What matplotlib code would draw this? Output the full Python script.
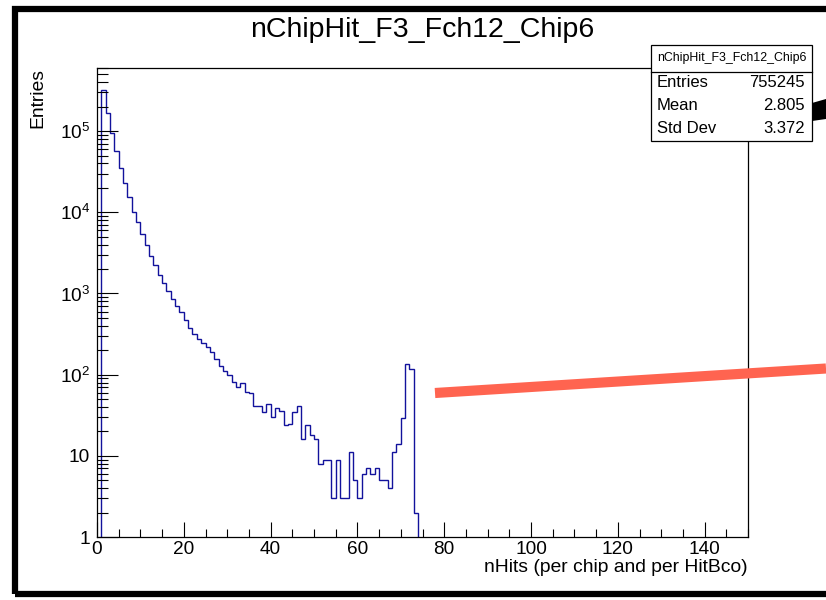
import numpy as np
import matplotlib
matplotlib.use("Agg")
import matplotlib.pyplot as plt
from matplotlib.patches import Rectangle, Polygon
from matplotlib.lines import Line2D
from matplotlib.ticker import MultipleLocator, LogLocator, FuncFormatter, NullFormatter

plt.rcParams['font.family'] = ['Liberation Sans', 'DejaVu Sans']
plt.rcParams['mathtext.fontset'] = 'custom'
plt.rcParams['mathtext.rm'] = 'Liberation Sans'
plt.rcParams['mathtext.it'] = 'Liberation Sans:italic'
plt.rcParams['mathtext.bf'] = 'Liberation Sans:bold'

# ─────────────────────────────────────────────────────────────
# Data (read off the ROOT canvas)
# ─────────────────────────────────────────────────────────────
hist_name = "nChipHit_F3_Fch12_Chip6"
x_title = "nHits (per chip and per HitBco)"
y_title = "Entries"

# entries per bin, bins of width 1 starting at nHits = 0
nhits_counts = [
    0, 320000, 168000, 95000, 56500, 35500, 23200, 15400, 10200, 7500,
    5400, 3960, 2920, 2260, 1670, 1330, 1070, 850, 700, 590,
    465, 375, 320, 272, 245, 217, 189, 155, 129, 112,
    98, 81, 70, 79, 61, 59, 41, 41, 35, 44,
    30, 39, 36, 24, 25, 35, 41, 16, 24, 18,
    16, 8, 9, 9, 3, 9, 3, 3, 11, 5,
    3, 6, 7, 6, 7, 5, 5, 4, 11, 14,
    29, 136, 118, 2,
]
n_bins = 150
x_range = (0, 150)
y_range = (1, 6e5)
x_major_ticks = [0, 20, 40, 60, 80, 100, 120, 140]

stat_labels = ["Entries", "Mean", "Std Dev"]
stat_values = ["755245", "2.805", "3.372"]

W, H = 826, 600
line_blue = '#12129c'


def fx(px):
    return px / W


def fy(py):
    return 1 - py / H


def log_label(v, pos):
    e = int(round(np.log10(v)))
    if e == 0:
        return "1"
    if e == 1:
        return "10"
    return r"$10^{%d}$" % e


fig = plt.figure(figsize=(W / 100, H / 100), dpi=100)
ax = fig.add_axes([fx(97), fy(537), fx(748) - fx(97), fy(68) - fy(537)])

counts = np.zeros(n_bins)
counts[:len(nhits_counts)] = nhits_counts
edges = np.arange(n_bins + 1)
# empty bins are pushed below the frame, like ROOT does on a log scale
draw_counts = np.where(counts > 0, counts, 1e-2)
ax.stairs(draw_counts, edges, baseline=None, color=line_blue, lw=1.0)

ax.set_yscale('log')
ax.set_xlim(*x_range)
ax.set_ylim(*y_range)

ax.set_xticks(x_major_ticks)
ax.xaxis.set_minor_locator(MultipleLocator(5))
ax.yaxis.set_major_locator(LogLocator(base=10, numticks=10))
ax.yaxis.set_minor_locator(LogLocator(base=10, subs=np.arange(2, 10), numticks=20))
ax.yaxis.set_major_formatter(FuncFormatter(log_label))
ax.yaxis.set_minor_formatter(NullFormatter())

ax.tick_params(axis='both', which='both', direction='in', top=False, right=False,
               labelsize=13.7, width=0.8, color='black')
ax.tick_params(axis='x', which='major', length=11, pad=3)
ax.tick_params(axis='x', which='minor', length=6)
ax.tick_params(axis='y', which='major', length=15, pad=5)
ax.tick_params(axis='y', which='minor', length=8)
for side in ax.spines.values():
    side.set_linewidth(0.9)

# titles
fig.text(fx(422), fy(30), hist_name, ha='center', va='center', fontsize=20.5)
fig.text(fx(748), fy(567), x_title, ha='right', va='center', fontsize=13.9)
fig.text(fx(38), fy(68), y_title, ha='center', va='top', rotation=90, fontsize=13.9)

# stat box
box_l, box_r, box_t, box_b, box_sep = 651, 812, 45, 141, 71.5
fig.add_artist(Rectangle((fx(box_l), fy(box_b)), fx(box_r) - fx(box_l), fy(box_t) - fy(box_b),
                         transform=fig.transFigure, facecolor='white', edgecolor='black', lw=0.9))
fig.add_artist(Line2D([fx(box_l), fx(box_r)], [fy(box_sep), fy(box_sep)],
                      transform=fig.transFigure, color='black', lw=0.9))
fig.text(fx((box_l + box_r) / 2), fy(58.5), hist_name, ha='center', va='center', fontsize=8.9)
for i, (lab, val) in enumerate(zip(stat_labels, stat_values)):
    row_y = fy(82.5 + 23 * i)
    fig.text(fx(657), row_y, lab, ha='left', va='center', fontsize=12)
    fig.text(fx(805), row_y, val, ha='right', va='center', fontsize=12)

# annotations drawn over the canvas
fig.add_artist(Line2D([fx(435), fx(826)], [fy(393), fy(368.5)], transform=fig.transFigure,
                      color='#ff6450', lw=7.3, solid_capstyle='butt'))
fig.add_artist(Polygon([(fx(812), fy(103)), (fx(826), fy(99)), (fx(826), fy(119)), (fx(812), fy(121))],
                       closed=True, transform=fig.transFigure, facecolor='black', edgecolor='none'))

# outer black frame
fig.add_artist(Rectangle((fx(15), fy(594)), fx(860) - fx(15), fy(9) - fy(594),
                         transform=fig.transFigure, facecolor='none', edgecolor='black', lw=4.5))

fig.savefig("out.png", dpi=100)
